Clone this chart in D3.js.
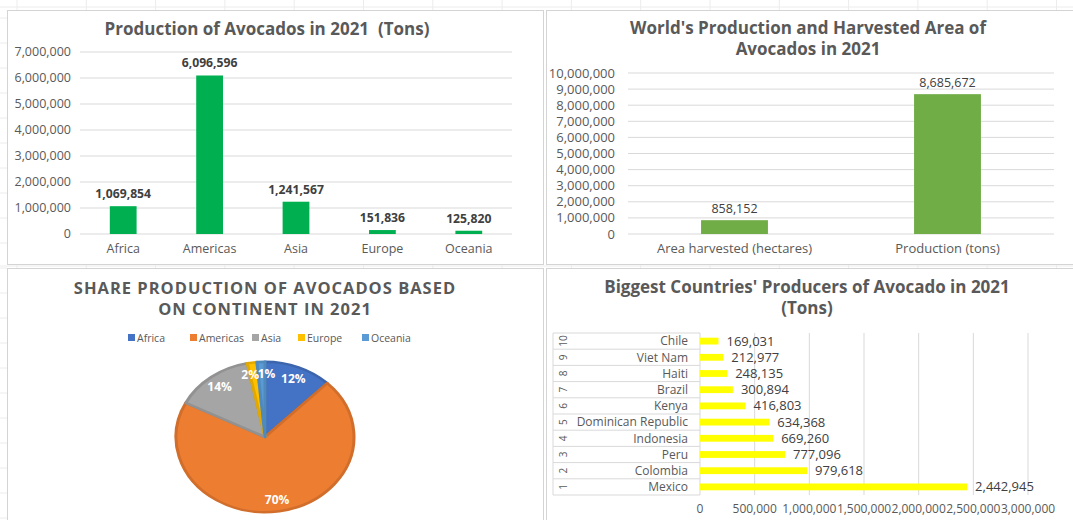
<!DOCTYPE html>
<html>
<head>
    <script src="https://cdnjs.cloudflare.com/ajax/libs/d3/7.8.5/d3.min.js"></script>
    <style>
        body { margin: 0; background: #fff; }
        svg { display: block; font-family: "Open Sans", Arial, sans-serif; }
        .title { fill: #595959; font-weight: bold; text-anchor: middle; white-space: pre; }
        .tick-label { fill: #595959; font-size: 12.5px; }
        .grid { stroke: #d9d9d9; stroke-width: 1; }
        .panel { fill: #fff; stroke: #d4d4d4; stroke-width: 1; }
    </style>
</head>
<body>
<svg id="chart" width="1073" height="520"></svg>
<script>
    // ---- data ----
    const continents = ["Africa", "Americas", "Asia", "Europe", "Oceania"];
    const continentTons = [1069854, 6096596, 1241567, 151836, 125820];
    const continentTicks = [0, 1000000, 2000000, 3000000, 4000000, 5000000, 6000000, 7000000];

    const worldCategories = ["Area harvested (hectares)", "Production (tons)"];
    const worldValues = [858152, 8685672];
    const worldTicks = [0, 1000000, 2000000, 3000000, 4000000, 5000000, 6000000, 7000000, 8000000, 9000000, 10000000];

    const pieColors = ["#4472C4", "#ED7D31", "#A5A5A5", "#FFC000", "#5B9BD5"];

    const countries = ["Mexico", "Colombia", "Peru", "Indonesia", "Dominican Republic",
                       "Kenya", "Brazil", "Haiti", "Viet Nam", "Chile"];
    const countryRanks = ["1", "2", "3", "4", "5", "6", "7", "8", "9", "10"];
    const countryTons = [2442945, 979618, 777096, 669260, 634368, 416803, 300894, 248135, 212977, 169031];
    const countryTicks = [0, 500000, 1000000, 1500000, 2000000, 2500000, 3000000];

    const fmt = d3.format(",");
    const svg = d3.select("#chart");

    // faint spreadsheet cells behind the charts
    const cells = svg.append("g").attr("stroke", "#ececec").attr("stroke-width", 1);
    d3.range(17, 1073, 69.3).forEach(x => cells.append("line").attr("x1", x).attr("x2", x).attr("y1", 0).attr("y2", 520));
    [7, 266].forEach(y => cells.append("line").attr("x1", 0).attr("x2", 1073).attr("y1", y).attr("y2", y));
    d3.range(18, 520, 25).forEach(y => cells.append("line").attr("x1", 0).attr("x2", 7).attr("y1", y).attr("y2", y));

    // panels
    [[7.5, 10.5, 536, 254], [546.5, 10.5, 530, 254], [7.5, 268.5, 536, 260], [546.5, 268.5, 530, 260]]
        .forEach(p => svg.append("rect").attr("class", "panel")
            .attr("x", p[0]).attr("y", p[1]).attr("width", p[2]).attr("height", p[3]));

    // ---------- chart 1: production by continent ----------
    {
        const g = svg.append("g");
        const x = d3.scaleBand().domain(continents).range([80, 512]).paddingInner(0.69).paddingOuter(0.345);
        const y = d3.scaleLinear().domain([0, 7000000]).range([234, 52]);

        g.append("text").attr("class", "title").attr("x", 267).attr("y", 35)
            .style("font-size", "17px").text("Production of Avocados in 2021  (Tons)");

        g.selectAll(".grid").data(continentTicks).join("line").attr("class", "grid")
            .attr("x1", 80).attr("x2", 512).attr("y1", d => y(d)).attr("y2", d => y(d));

        g.selectAll(".yl").data(continentTicks).join("text").attr("class", "tick-label")
            .attr("x", 71).attr("y", d => y(d)).attr("dy", "0.35em").attr("text-anchor", "end")
            .text(d => fmt(d));

        g.selectAll(".bar").data(continents).join("rect")
            .attr("x", d => x(d)).attr("width", x.bandwidth())
            .attr("y", (d, i) => y(continentTons[i]))
            .attr("height", (d, i) => y(0) - y(continentTons[i]))
            .attr("fill", "#00B050");

        g.selectAll(".val").data(continents).join("text")
            .attr("x", d => x(d) + x.bandwidth() / 2)
            .attr("y", (d, i) => y(continentTons[i]) - 8)
            .attr("text-anchor", "middle").attr("fill", "#404040")
            .style("font-size", "12.2px").style("font-weight", "bold")
            .text((d, i) => fmt(continentTons[i]));

        g.selectAll(".xl").data(continents).join("text").attr("class", "tick-label")
            .attr("x", d => x(d) + x.bandwidth() / 2).attr("y", 253)
            .attr("text-anchor", "middle").text(d => d);
    }

    // ---------- chart 2: world production vs harvested area ----------
    {
        const g = svg.append("g");
        const x = d3.scaleBand().domain(worldCategories).range([628, 1054]).paddingInner(0.686).paddingOuter(0.343);
        const y = d3.scaleLinear().domain([0, 10000000]).range([234, 73]);

        g.append("text").attr("class", "title").attr("x", 808).attr("y", 34)
            .style("font-size", "17px").text("World's Production and Harvested Area of");
        g.append("text").attr("class", "title").attr("x", 808).attr("y", 55)
            .style("font-size", "17px").text("Avocados in 2021");

        g.selectAll(".grid").data(worldTicks).join("line").attr("class", "grid")
            .attr("x1", 628).attr("x2", 1054).attr("y1", d => y(d)).attr("y2", d => y(d));

        g.selectAll(".yl").data(worldTicks).join("text").attr("class", "tick-label")
            .attr("x", 615).attr("y", d => y(d)).attr("dy", "0.35em").attr("text-anchor", "end")
            .style("font-size", "13px").text(d => fmt(d));

        g.selectAll(".bar").data(worldCategories).join("rect")
            .attr("x", d => x(d)).attr("width", x.bandwidth())
            .attr("y", (d, i) => y(worldValues[i]))
            .attr("height", (d, i) => y(0) - y(worldValues[i]))
            .attr("fill", "#70AD47");

        g.selectAll(".val").data(worldCategories).join("text")
            .attr("x", d => x(d) + x.bandwidth() / 2)
            .attr("y", (d, i) => y(worldValues[i]) - 7)
            .attr("text-anchor", "middle").attr("fill", "#404040")
            .style("font-size", "12.5px")
            .text((d, i) => fmt(worldValues[i]));

        g.selectAll(".xl").data(worldCategories).join("text").attr("class", "tick-label")
            .attr("x", d => x(d) + x.bandwidth() / 2).attr("y", 253)
            .attr("text-anchor", "middle").style("font-size", "13px").text(d => d);
    }

    // ---------- chart 3: share pie ----------
    {
        const g = svg.append("g");
        g.append("text").attr("class", "title").attr("x", 265).attr("y", 294)
            .style("font-size", "16.5px").style("letter-spacing", "1px")
            .text("SHARE PRODUCTION OF AVOCADOS BASED");
        g.append("text").attr("class", "title").attr("x", 265).attr("y", 315)
            .style("font-size", "16.5px").style("letter-spacing", "1px")
            .text("ON CONTINENT IN 2021");

        const legendX = [128, 190, 252, 298, 362];
        const lg = g.selectAll(".leg").data(continents).join("g")
            .attr("transform", (d, i) => `translate(${legendX[i]},338)`);
        lg.append("rect").attr("x", 0).attr("y", -4).attr("width", 7).attr("height", 7)
            .attr("fill", (d, i) => pieColors[i]);
        lg.append("text").attr("x", 9).attr("dy", "0.35em").attr("fill", "#595959")
            .style("font-size", "10.5px").text(d => d);

        const total = d3.sum(continentTons);
        const pie = d3.pie().sort(null).value(d => d)(continentTons);
        const r = 89;
        const arc = d3.arc().innerRadius(0).outerRadius(r);
        const labelArc = d3.arc().innerRadius(75).outerRadius(75);
        // small sideways nudge so the two thin slices' labels sit side by side
        const nudge = [0, 0, 0, -4, 5];
        const pg = g.append("g").attr("transform", "translate(265,437) scale(1,0.845)");
        pg.selectAll("path").data(pie).join("path")
            .attr("d", arc)
            .attr("fill", (d, i) => pieColors[i])
            .attr("stroke", (d, i) => d3.color(pieColors[i]).darker(0.35))
            .attr("stroke-width", 3).attr("stroke-linejoin", "round");
        pg.selectAll(".pl").data(pie).join("text")
            .attr("transform", (d, i) => {
                const c = labelArc.centroid(d);
                return `translate(${c[0] + nudge[i]},${c[1]}) scale(1,${1 / 0.845})`;
            })
            .attr("text-anchor", "middle").attr("dy", "0.35em")
            .attr("fill", "#fff").style("font-size", "12px").style("font-weight", "bold")
            .text(d => Math.round(d.value / total * 100) + "%");
    }

    // ---------- chart 4: biggest producing countries ----------
    {
        const g = svg.append("g");
        g.append("text").attr("class", "title").attr("x", 807).attr("y", 293)
            .style("font-size", "17px").text("Biggest Countries' Producers of Avocado in 2021");
        g.append("text").attr("class", "title").attr("x", 807).attr("y", 314)
            .style("font-size", "17px").text("(Tons)");

        const x = d3.scaleLinear().domain([0, 3000000]).range([700, 1028]);
        const y = d3.scaleBand().domain(countries).range([495, 333]).paddingInner(0.58).paddingOuter(0.29);
        const step = y.step();

        g.selectAll(".vgrid").data(countryTicks.slice(1)).join("line").attr("class", "grid")
            .attr("x1", d => x(d)).attr("x2", d => x(d)).attr("y1", 333).attr("y2", 495);

        // category table lines
        const rowEdges = d3.range(countries.length + 1).map(i => 333 + i * step);
        g.selectAll(".row").data(rowEdges).join("line")
            .attr("x1", 553).attr("x2", 700).attr("y1", d => d).attr("y2", d => d)
            .attr("stroke", "#d9d9d9");
        g.append("line").attr("x1", 553).attr("x2", 553).attr("y1", 333).attr("y2", 495).attr("stroke", "#d9d9d9");
        g.append("line").attr("x1", 700).attr("x2", 700).attr("y1", 333).attr("y2", 495).attr("stroke", "#d9d9d9");

        g.selectAll(".bar").data(countries).join("rect")
            .attr("x", x(0)).attr("y", d => y(d))
            .attr("width", (d, i) => x(countryTons[i]) - x(0))
            .attr("height", y.bandwidth())
            .attr("fill", "#FFFF00");

        g.selectAll(".val").data(countries).join("text")
            .attr("x", (d, i) => x(countryTons[i]) + 8)
            .attr("y", d => y(d) + y.bandwidth() / 2).attr("dy", "0.35em")
            .attr("fill", "#404040").style("font-size", "13px")
            .text((d, i) => fmt(countryTons[i]));

        g.selectAll(".name").data(countries).join("text").attr("class", "tick-label")
            .attr("x", 688).attr("y", d => y(d) + y.bandwidth() / 2).attr("dy", "0.35em")
            .attr("text-anchor", "end").style("font-size", "12px").text(d => d);

        g.selectAll(".rank").data(countries).join("text").attr("class", "tick-label")
            .attr("transform", d => `translate(563,${y(d) + y.bandwidth() / 2}) rotate(-90)`)
            .attr("text-anchor", "middle").attr("dy", "0.35em").style("font-size", "10px")
            .text((d, i) => countryRanks[i]);

        g.selectAll(".xl").data(countryTicks).join("text").attr("class", "tick-label")
            .attr("x", d => x(d)).attr("y", 513).attr("text-anchor", "middle")
            .style("font-size", "12px").text(d => fmt(d));
    }
</script>
</body>
</html>
